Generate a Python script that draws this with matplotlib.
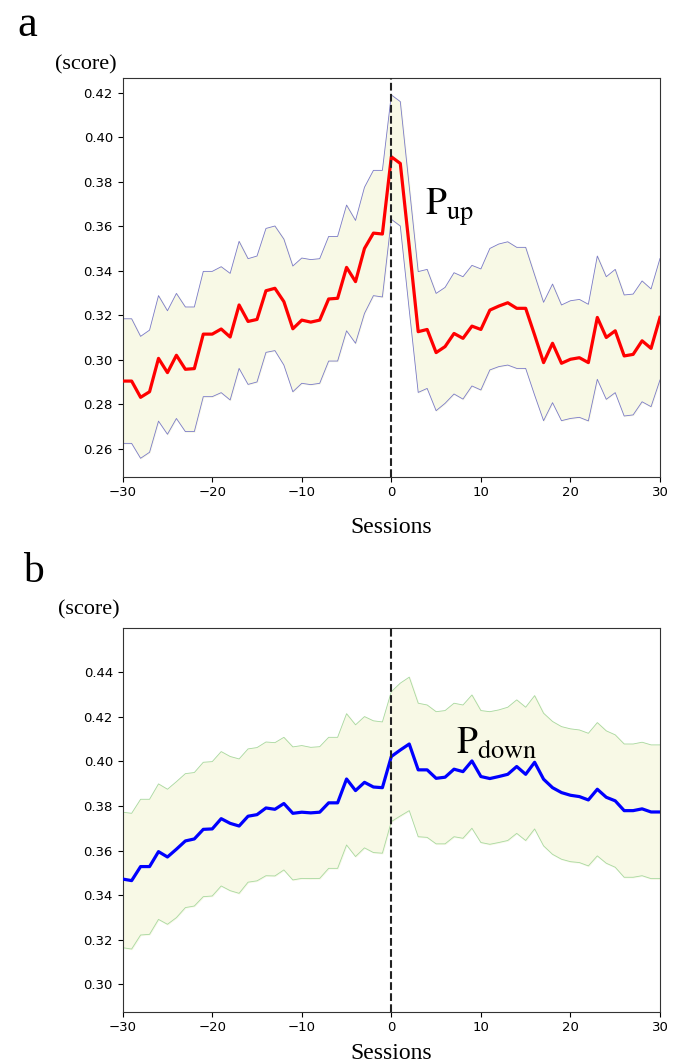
import numpy as np
import matplotlib
matplotlib.use('Agg')
import matplotlib.pyplot as plt

plt.rcParams['mathtext.fontset'] = 'stix'

sessions = list(range(-30, 31))

# panel a: P_up score (mean, upper and lower band)
up_mean = [0.2904, 0.2904, 0.2831, 0.2856, 0.3006, 0.2942, 0.3020, 0.2957, 0.2960, 0.3115,
           0.3115, 0.3138, 0.3102, 0.3246, 0.3172, 0.3181, 0.3310, 0.3321, 0.3261, 0.3139,
           0.3178, 0.3169, 0.3178, 0.3273, 0.3276, 0.3415, 0.3351, 0.3500, 0.3569, 0.3565,
           0.3912,
           0.3882, 0.3508, 0.3126, 0.3136, 0.3032, 0.3059, 0.3118, 0.3096, 0.3151, 0.3136,
           0.3223, 0.3241, 0.3256, 0.3231, 0.3231, 0.3111, 0.2987, 0.3074, 0.2984, 0.3002,
           0.3009, 0.2987, 0.3190, 0.3100, 0.3130, 0.3017, 0.3024, 0.3085, 0.3051, 0.3190]
up_high = [0.3184, 0.3184, 0.3105, 0.3133, 0.3288, 0.3220, 0.3298, 0.3237, 0.3237, 0.3397,
           0.3397, 0.3418, 0.3388, 0.3532, 0.3454, 0.3466, 0.3590, 0.3601, 0.3542, 0.3421,
           0.3457, 0.3450, 0.3454, 0.3554, 0.3554, 0.3695, 0.3626, 0.3775, 0.3851, 0.3851,
           0.4190,
           0.4160, 0.3778, 0.3396, 0.3406, 0.3298, 0.3325, 0.3391, 0.3373, 0.3424, 0.3408,
           0.3500, 0.3520, 0.3530, 0.3505, 0.3505, 0.3381, 0.3258, 0.3340, 0.3246, 0.3265,
           0.3271, 0.3249, 0.3466, 0.3373, 0.3406, 0.3291, 0.3295, 0.3354, 0.3318, 0.3455]
up_low = [0.2624, 0.2624, 0.2557, 0.2584, 0.2724, 0.2665, 0.2736, 0.2677, 0.2677, 0.2834,
          0.2834, 0.2852, 0.2819, 0.2961, 0.2889, 0.2900, 0.3033, 0.3041, 0.2976, 0.2856,
          0.2894, 0.2888, 0.2894, 0.2994, 0.2994, 0.3130, 0.3074, 0.3208, 0.3288, 0.3282,
          0.3631,
          0.3601, 0.3223, 0.2853, 0.2871, 0.2771, 0.2804, 0.2846, 0.2823, 0.2882, 0.2864,
          0.2954, 0.2969, 0.2976, 0.2961, 0.2961, 0.2841, 0.2726, 0.2807, 0.2726, 0.2736,
          0.2741, 0.2725, 0.2912, 0.2822, 0.2852, 0.2747, 0.2752, 0.2811, 0.2789, 0.2909]

# panel b: P_down score
down_mean = [0.3472, 0.3465, 0.3528, 0.3528, 0.3595, 0.3571, 0.3606, 0.3643, 0.3652, 0.3695,
             0.3697, 0.3743, 0.3722, 0.3710, 0.3754, 0.3761, 0.3791, 0.3785, 0.3811, 0.3767,
             0.3772, 0.3769, 0.3772, 0.3814, 0.3814, 0.3921, 0.3869, 0.3906, 0.3885, 0.3882,
             0.4022,
             0.4051, 0.4078, 0.3962, 0.3962, 0.3924, 0.3929, 0.3965, 0.3954, 0.4002, 0.3932,
             0.3923, 0.3932, 0.3942, 0.3977, 0.3942, 0.3996, 0.3920, 0.3882, 0.3860, 0.3848,
             0.3842, 0.3827, 0.3875, 0.3839, 0.3823, 0.3779, 0.3779, 0.3787, 0.3773, 0.3773]
down_high = [0.3772, 0.3767, 0.3830, 0.3830, 0.3899, 0.3875, 0.3909, 0.3945, 0.3950, 0.3996,
             0.3999, 0.4044, 0.4022, 0.4011, 0.4056, 0.4062, 0.4087, 0.4084, 0.4108, 0.4065,
             0.4071, 0.4063, 0.4066, 0.4108, 0.4108, 0.4214, 0.4164, 0.4201, 0.4182, 0.4177,
             0.4313,
             0.4351, 0.4378, 0.4261, 0.4253, 0.4223, 0.4228, 0.4261, 0.4253, 0.4298, 0.4228,
             0.4223, 0.4231, 0.4243, 0.4276, 0.4243, 0.4295, 0.4216, 0.4179, 0.4156, 0.4146,
             0.4141, 0.4126, 0.4174, 0.4137, 0.4119, 0.4078, 0.4078, 0.4086, 0.4074, 0.4074]
down_low = [0.3164, 0.3158, 0.3221, 0.3224, 0.3291, 0.3269, 0.3299, 0.3344, 0.3351, 0.3393,
            0.3396, 0.3441, 0.3420, 0.3408, 0.3458, 0.3464, 0.3487, 0.3486, 0.3513, 0.3468,
            0.3475, 0.3474, 0.3475, 0.3520, 0.3520, 0.3625, 0.3573, 0.3612, 0.3591, 0.3588,
            0.3730,
            0.3755, 0.3779, 0.3662, 0.3659, 0.3630, 0.3630, 0.3662, 0.3655, 0.3700, 0.3636,
            0.3628, 0.3636, 0.3645, 0.3677, 0.3645, 0.3697, 0.3621, 0.3583, 0.3561, 0.3550,
            0.3546, 0.3531, 0.3576, 0.3543, 0.3525, 0.3480, 0.3480, 0.3487, 0.3474, 0.3474]

x = np.array(sessions)
fill_col = '#f8f9e6'
serif = 'Liberation Serif'

fig = plt.figure(figsize=(6.85, 10.63), dpi=100)
ax1 = fig.add_axes([0.1791, 0.5515, 0.7844, 0.3751])
ax2 = fig.add_axes([0.1791, 0.0483, 0.7844, 0.3606])


def draw_panel(ax, mean, low, high, line_col, edge_col, ylim, yticks):
    ax.fill_between(x, low, high, color=fill_col, zorder=1)
    ax.plot(x, high, color=edge_col, lw=0.6, zorder=2)
    ax.plot(x, low, color=edge_col, lw=0.6, zorder=2)
    ax.plot(x, mean, color=line_col, lw=2.3, zorder=3)
    ax.axvline(0, color='#222222', ls='--', lw=1.5, zorder=4)
    ax.set_xlim(-30, 30)
    ax.set_ylim(*ylim)
    ax.set_xticks([-30, -20, -10, 0, 10, 20, 30])
    ax.set_xticklabels(['\u221230', '\u221220', '\u221210', '0', '10', '20', '30'])
    ax.set_yticks(yticks)
    ax.set_yticklabels(['%.2f' % v for v in yticks])
    ax.tick_params(labelsize=9.5)
    for s in ax.spines.values():
        s.set_color('#333333')


draw_panel(ax1, up_mean, up_low, up_high, 'red', '#7a7ac8', (0.2474, 0.4266),
           [0.26, 0.28, 0.30, 0.32, 0.34, 0.36, 0.38, 0.40, 0.42])
draw_panel(ax2, down_mean, down_low, down_high, 'blue', '#a8d8a0', (0.2877, 0.4597),
           [0.30, 0.32, 0.34, 0.36, 0.38, 0.40, 0.42, 0.44])

ax1.text(3.8, 0.365, r'$\mathrm{P_{up}}$', fontsize=27, va='baseline', zorder=5)
ax2.text(7.2, 0.4038, r'$\mathrm{P_{down}}$', fontsize=27, va='baseline', zorder=5)

fig.text(0.026, 0.966, 'a', family=serif, fontsize=32, va='baseline')
fig.text(0.080, 0.935, '(score)', family=serif, fontsize=16, va='baseline')
fig.text(0.571, 1 - 533 / 1063, 'Sessions', family=serif, fontsize=17, va='baseline', ha='center')

fig.text(0.034, 0.4525, 'b', family=serif, fontsize=30, va='baseline')
fig.text(0.085, 0.4224, '(score)', family=serif, fontsize=16, va='baseline')
fig.text(0.571, 1 - 1059 / 1063, 'Sessions', family=serif, fontsize=17, va='baseline', ha='center')

fig.savefig('out.png', dpi=100)
